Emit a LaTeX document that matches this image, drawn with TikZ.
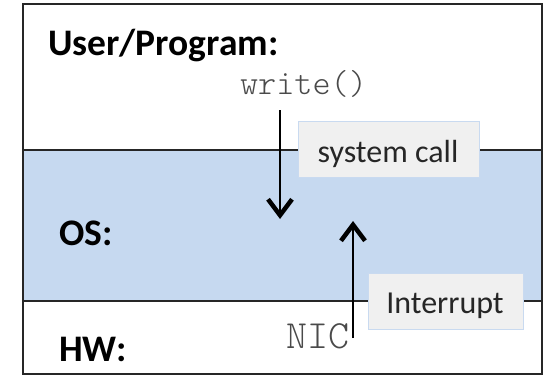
\documentclass[tikz,border=0pt]{standalone}
\usepackage{fontspec}
\setmainfont{Carlito}
\newfontfamily\monof{Latin Modern Mono Light}
\usetikzlibrary{arrows.meta}
\definecolor{osblue}{HTML}{C6D9F0}
\definecolor{boxfill}{HTML}{F0F0F0}
\definecolor{boxline}{HTML}{C9DAF0}
\definecolor{monogray}{HTML}{4A4A4A}
\tikzset{
  layerlabel/.style={anchor=base west, inner sep=0pt, font=\fontsize{37.5}{37.5}\selectfont\bfseries},
  tagbox/.style={draw=boxline, fill=boxfill, line width=0.8pt, inner sep=0pt},
  tagtext/.style={anchor=base, inner sep=0pt, font=\fontsize{32}{32}\selectfont, text=black!85},
  codetext/.style={inner sep=0pt, text=monogray},
  flow/.style={line width=2.4pt, -{Straight Barb[length=16pt, width=24pt, line width'=4.5pt]}},
  sepline/.style={line width=1.6pt, black!85}
}
\begin{document}
\begin{tikzpicture}[x=1pt,y=-1pt]
\useasboundingbox (0,0) rectangle (554,375);
\fill[white] (0,0) rectangle (554,375);
% OS band
\fill[osblue] (23,150) rectangle (542,301);
\draw[sepline] (23,150) -- (542,150);
\draw[sepline] (23,301) -- (542,301);
% outer frame
\draw[line width=2pt, black!85] (23,4) rectangle (542,374);
% labels
\node[layerlabel] (user) at (48,55) {User/Program:};
\node[layerlabel] (os) at (59,245) {OS:};
\node[layerlabel] (hw) at (59,361) {HW:};
% code texts
\node[codetext, anchor=base, font=\monof\fontsize{34.5}{34.5}\selectfont] (write) at (303.5,94) {write()};
\node[codetext, anchor=base east, font=\monof\fontsize{40}{40}\selectfont] (nic) at (350,348) {NIC};
% tag boxes
\node[tagbox, minimum width=181pt, minimum height=56pt] (sysbox) at (388.5,149) {};
\node[tagtext] (syscall) at (388,162) {system call};
\node[tagbox, minimum width=155pt, minimum height=56pt] (intbox) at (445.5,301) {};
\node[tagtext] (interrupt) at (445,313) {Interrupt};
% arrows
\coordinate (downstart) at (280,110);
\coordinate (downend) at (280,219);
\coordinate (upstart) at (353,338);
\coordinate (upend) at (353,221);
\draw[flow] (downstart) -- (downend);
\draw[flow] (upstart) -- (upend);
\end{tikzpicture}
\end{document}
